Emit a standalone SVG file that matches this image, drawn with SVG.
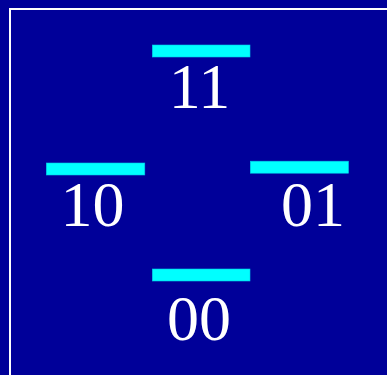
<svg xmlns="http://www.w3.org/2000/svg" width="387" height="375" viewBox="0 0 387 375">
<style>
.bar{fill:#00ffff;stroke:#00c8e8;stroke-width:0.6}
.lbl{fill:#ffffff;font-family:"Liberation Serif","Times New Roman",serif;font-size:64px;text-anchor:middle}
</style>
<rect x="0" y="0" width="387" height="375" fill="#000099"/>
<rect x="10" y="9" width="400" height="400" fill="none" stroke="#ffffff" stroke-width="2"/>
<g id="node-11">
<rect class="bar" x="152.3" y="45" width="97.7" height="12"/>
<text class="lbl" x="199.5" y="108">11</text>
</g>
<g id="node-10">
<rect class="bar" x="46.3" y="163" width="98.5" height="12"/>
<text class="lbl" x="92.5" y="226">10</text>
</g>
<g id="node-01">
<rect class="bar" x="250.3" y="161.2" width="98.2" height="12"/>
<text class="lbl" x="313" y="226">01</text>
</g>
<g id="node-00">
<rect class="bar" x="152.3" y="269" width="97.7" height="12"/>
<text class="lbl" x="199" y="340">00</text>
</g>
<g id="connectors"/>
</svg>
